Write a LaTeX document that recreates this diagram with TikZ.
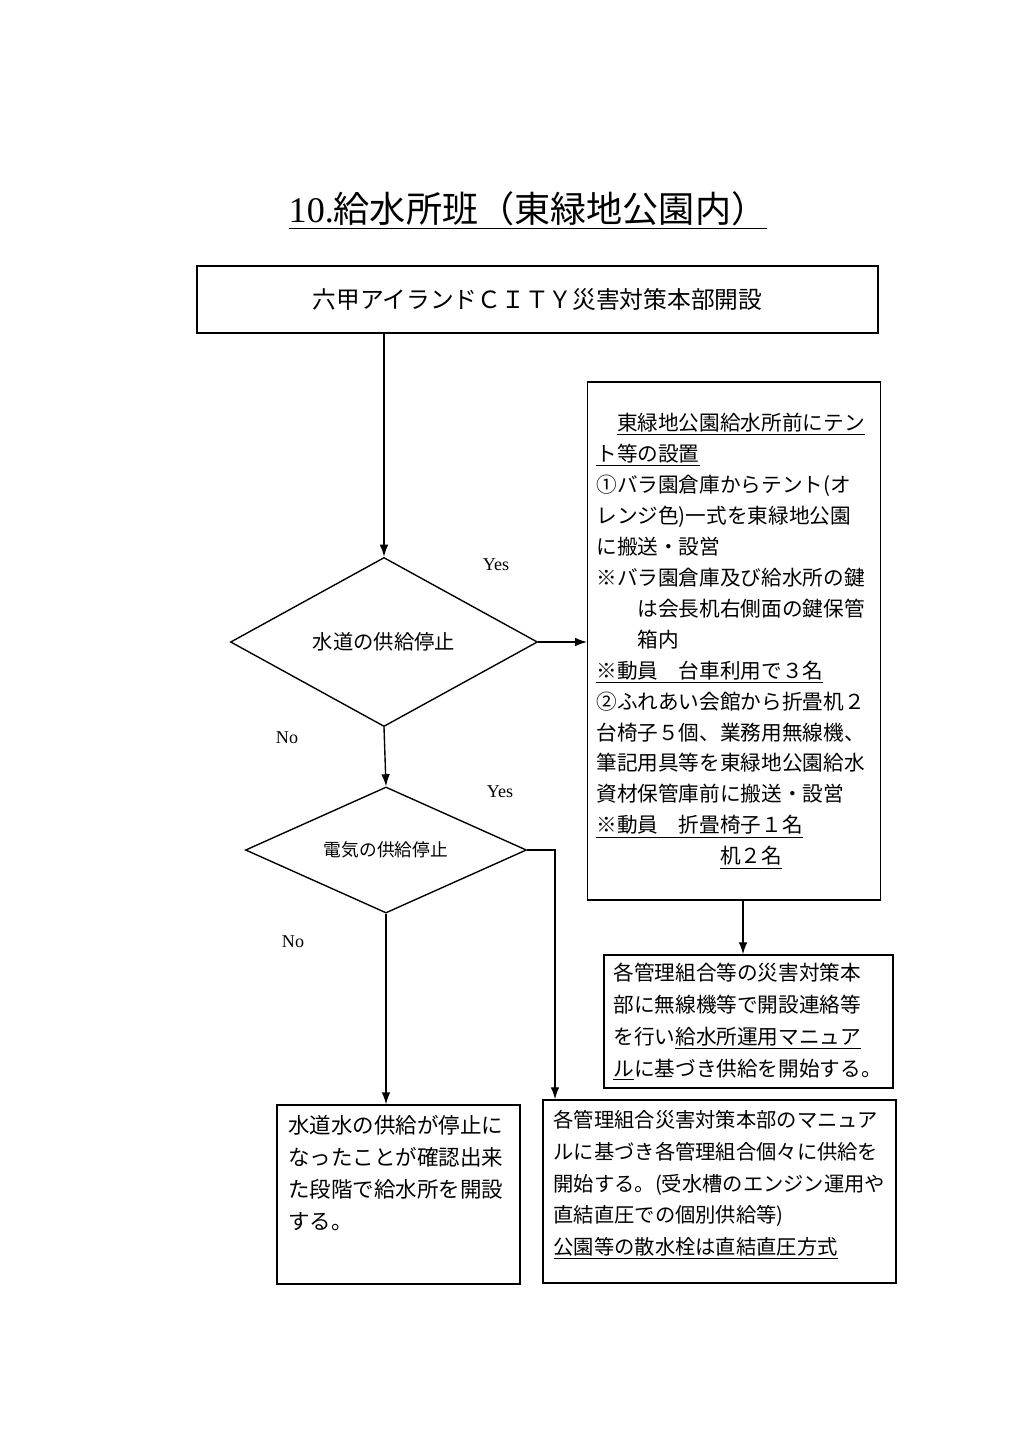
\documentclass[tikz,border=0pt]{standalone}
\usepackage{fontspec}
\setmainfont{Liberation Serif}
\newfontfamily\cjk{Noto Sans CJK JP}
\usetikzlibrary{shapes.geometric,arrows.meta}
\tikzset{
	box/.style={draw, rectangle, inner sep=0pt},
	dec/.style={draw, diamond, inner sep=0pt},
	lab/.style={font=\fontsize{10.5}{12}\selectfont},
	arr/.style={-{Latex[length=7pt,width=5pt]}}
}
\begin{document}
\begin{tikzpicture}[x=0.5814pt, y=-0.5814pt, line width=0.8pt]
	\useasboundingbox (0,0) rectangle (1024,1449);
	\node (title) at (528,210) {\fontsize{21}{25}\selectfont\underline{10.{\cjk 給水所班（東緑地公園内）}}};
	\node[box, minimum width=395.9pt, minimum height=39pt, font=\cjk\fontsize{13.8}{16}\selectfont] (hq) at (537.5,299.5) {六甲アイランドＣＩＴＹ災害対策本部開設};
	\node[dec, aspect=1.82, minimum width=178.5pt, minimum height=98.3pt, font=\cjk\fontsize{11.8}{14}\selectfont] (d1) at (384,642) {水道の供給停止};
	\node[dec, aspect=2.23, minimum width=163.4pt, minimum height=73.3pt, font=\cjk\fontsize{10.3}{12}\selectfont] (d2) at (386,850) {電気の供給停止};
	\node[box, minimum width=169.8pt, minimum height=301.2pt, text width=160pt, inner xsep=5pt, align=left, font=\cjk\fontsize{12}{18}\selectfont] (tent) at (734,641) {
	　\underline{東緑地公園給水所前にテン}\\
	\underline{ト等の設置}\\
	①バラ園倉庫からテント(オ\\
	レンジ色)一式を東緑地公園\\
	に搬送・設営\\
	※バラ園倉庫及び給水所の鍵\\
	　　は会長机右側面の鍵保管\\
	　　箱内\\
	\underline{※動員　台車利用で３名}\\
	②ふれあい会館から折畳机２\\
	台椅子５個、業務用無線機、\\
	筆記用具等を東緑地公園給水\\
	資材保管庫前に搬送・設営\\
	\underline{※動員　折畳椅子１名}\\
	　　　　　　\underline{机２名}};
	\node[box, minimum width=168pt, minimum height=77.3pt, text width=157pt, inner xsep=5.5pt, align=left, font=\cjk\fontsize{12}{18.6}\selectfont] (ops) at (748.5,1021.5) {
	各管理組合等の災害対策本\\
	部に無線機等で開設連絡等\\
	を行い\underline{給水所運用マニュア}\\
	\underline{ル}に基づき供給を開始する。};
	\node[box, minimum width=141.3pt, minimum height=104pt] (open) at (398.5,1194.5) {\parbox[c][92pt][t]{128pt}{\cjk\fontsize{12.5}{18.6}\selectfont
	水道水の供給が停止に\\
	なったことが確認出来\\
	た段階で給水所を開設\\
	する。}};
	\node[box, minimum width=205.2pt, minimum height=106.4pt] (mgr) at (719.5,1191.5) {\parbox[c][94pt][t]{193pt}{\cjk\fontsize{11.8}{18.4}\selectfont
	各管理組合災害対策本部のマニュア\\
	ルに基づき各管理組合個々に供給を\\
	開始する。(受水槽のエンジン運用や\\
	直結直圧での個別供給等)\\
	\underline{公園等の散水栓は直結直圧方式}}};
	\node[lab] (y1) at (496,565) {Yes};
	\node[lab] (n1) at (287,738) {No};
	\node[lab] (y2) at (500,792) {Yes};
	\node[lab] (n2) at (293,942) {No};
	\coordinate (yk) at (555,850);
	\coordinate (tb) at (743,900);
	\draw[arr] (d1.north |- hq.south) -- (d1.north);
	\draw[arr] (d1.south) -- (d2.north);
	\draw[arr] (d1.east) -- (d1.east -| tent.west);
	\draw[arr] (tb) -- (tb |- ops.north);
	\draw[arr] (d2.east) -- (yk) -- (yk |- mgr.north);
	\draw[arr] (d2.south) -- (d2.south |- open.north);
\end{tikzpicture}
\end{document}
